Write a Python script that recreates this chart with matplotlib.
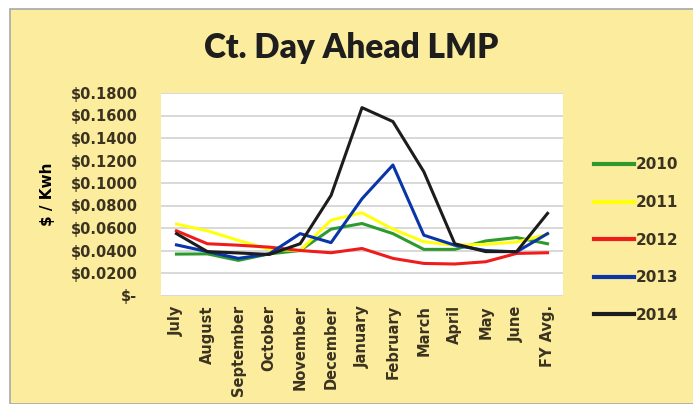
import matplotlib.pyplot as plt
from matplotlib.patches import Rectangle
from matplotlib.ticker import FuncFormatter

# Monthly Ct. day ahead LMP, $/kWh
months = ["July", "August", "September", "October", "November", "December",
          "January", "February", "March", "April", "May", "June", "FY Avg."]

lmp_2010 = [0.0368, 0.0370, 0.0312, 0.0370, 0.0400, 0.0590, 0.0640, 0.0550, 0.0410, 0.0410, 0.0485, 0.0515, 0.0460]
lmp_2011 = [0.0635, 0.0575, 0.0490, 0.0410, 0.0400, 0.0670, 0.0735, 0.0590, 0.0478, 0.0447, 0.0455, 0.0475, 0.0545]
lmp_2012 = [0.0575, 0.0460, 0.0447, 0.0430, 0.0400, 0.0380, 0.0418, 0.0330, 0.0285, 0.0280, 0.0300, 0.0374, 0.0380]
lmp_2013 = [0.0450, 0.0390, 0.0330, 0.0370, 0.0550, 0.0470, 0.0860, 0.1160, 0.0536, 0.0447, 0.0400, 0.0388, 0.0550]
lmp_2014 = [0.0550, 0.0390, 0.0378, 0.0365, 0.0460, 0.0890, 0.1670, 0.1546, 0.1100, 0.0460, 0.0390, 0.0390, 0.0730]

years = ["2010", "2011", "2012", "2013", "2014"]
series = [lmp_2010, lmp_2011, lmp_2012, lmp_2013, lmp_2014]
colors = ["#2e9a2e", "#ffff10", "#f01c1c", "#0a35a8", "#1c1c1c"]

text_color = "#3b3320"
bg = "#fcec9e"

fig = plt.figure(figsize=(6.93, 4.04), dpi=100)
fig.patch.set_facecolor("white")
fig.patches.append(Rectangle((10 / 693, 0), 1, 1 - 9 / 404, transform=fig.transFigure,
                             facecolor=bg, edgecolor="#a8a8a8", linewidth=1.2, zorder=-1))

ax = fig.add_axes([161 / 693, 1 - 295.5 / 404, 402 / 693, 202.5 / 404])
ax.set_facecolor("white")

x = list(range(len(months)))
for name, vals, c in zip(years, series, colors):
    ax.plot(x, vals, color=c, linewidth=2.2, label=name)

ax.set_xlim(-0.5, len(months) - 0.5)
ax.set_ylim(0, 0.18)
ax.set_yticks([i * 0.02 for i in range(10)])
ax.yaxis.set_major_formatter(FuncFormatter(lambda v, p: "$-" if abs(v) < 1e-9 else f"${v:.4f}"))
ax.set_xticks(x)
ax.set_xticklabels(months, rotation=90)
ax.grid(axis="y", color="#d6d6d6", linewidth=1.3)
ax.set_axisbelow(True)
for s in ax.spines.values():
    s.set_visible(False)
ax.tick_params(length=0, labelcolor=text_color, labelsize=10.5)
ax.tick_params(axis="y", pad=17)
ax.tick_params(axis="x", pad=7)
for lbl in ax.get_xticklabels() + ax.get_yticklabels():
    lbl.set_fontweight("bold")

ax.set_ylabel("$ / Kwh", color="black", fontsize=11, fontweight="bold", labelpad=11)

fig.text(0.507, 0.88, "Ct. Day Ahead LMP", ha="center", va="center",
         fontsize=24, fontweight="heavy", color="#1e1e1e", family=["Lato", "DejaVu Sans"])

leg = ax.legend(loc="center left", bbox_to_anchor=(1.043, 0.274), frameon=False,
                handlelength=2.6, handletextpad=0.15, labelspacing=1.48,
                prop={"size": 11, "weight": "bold"})
for t in leg.get_texts():
    t.set_color(text_color)
for h in leg.get_lines():
    h.set_linewidth(3)

fig.savefig("out.png", dpi=100, facecolor=fig.get_facecolor())
